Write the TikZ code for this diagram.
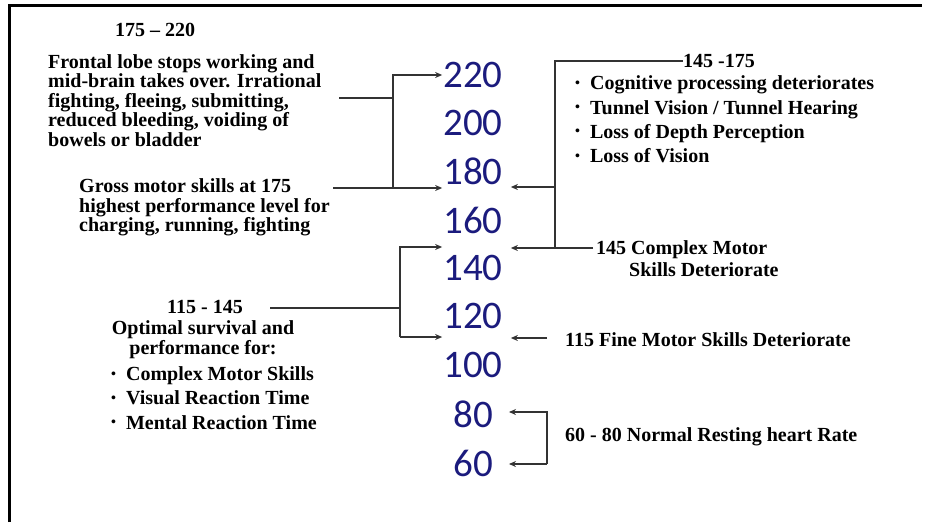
\documentclass[tikz,border=0pt]{standalone}
\usepackage{fontspec}
\setmainfont{Liberation Serif}
\newfontfamily\numfont{Carlito}
\usepackage{xcolor}
\usepackage{tikz}
\usetikzlibrary{arrows.meta}
\definecolor{numblue}{HTML}{1B1B7D}
\definecolor{wiregray}{HTML}{333333}
\newcommand{\bul}{\raisebox{2.5pt}{\fontsize{14}{14}\selectfont•}\hspace{10pt}}

\begin{document}
\begin{tikzpicture}[x=1pt,y=-1pt,
  num/.style={text=numblue,font=\numfont\fontsize{39}{39}\selectfont,inner sep=1pt},
  txt/.style={font=\bfseries\fontsize{20}{19.5}\selectfont,inner sep=0pt,align=left},
  list/.style={txt,font=\bfseries\fontsize{20}{24.3}\selectfont},
  wire/.style={wiregray,line width=1.6pt},
  arr/.style={wire,-{Stealth[length=7pt,width=6pt]}},
  rarr/.style={arr,shorten >=7pt}]
\useasboundingbox (0,0) rectangle (925,522);
\draw[line width=3pt] (9,522) -- (9,5) -- (922,5);
\node[num] (n220) at (473,75) {220};
\node[num] (n200) at (473,123) {200};
\node[num] (n180) at (473,171) {180};
\node[num] (n160) at (473,220) {160};
\node[num] (n140) at (473,268) {140};
\node[num] (n120) at (473,316) {120};
\node[num] (n100) at (473,365) {100};
\node[num] (n80) at (473,414) {80};
\node[num] (n60) at (473,463) {60};
\node[txt] (t175) at (155,30) {175 – 220};
\node[txt,anchor=west] (front) at (48,100.5) {Frontal lobe stops working and\\mid-brain takes over. Irrational\\fighting, fleeing, submitting,\\reduced bleeding, voiding of\\bowels or bladder};
\node[txt,anchor=west] (gross) at (79,207.5) {Gross motor skills at 175\\highest performance level for\\charging, running, fighting};
\node[txt,anchor=west] (t145) at (683,61) {145 -175};
\node[list,anchor=west] (cogn) at (575,119.5) {\bul Cognitive processing deteriorates\\\bul Tunnel Vision / Tunnel Hearing\\\bul Loss of Depth Perception\\\bul Loss of Vision};
\node[txt,anchor=west,font=\bfseries\fontsize{20}{22}\selectfont] (cmotor) at (596,259) {145 Complex Motor\\\hspace*{33pt}Skills Deteriorate};
\node[txt,anchor=west] (fine) at (565,340) {115 Fine Motor Skills Deteriorate};
\node[txt,anchor=west] (rest) at (565,437) {60 - 80 Normal Resting heart Rate};
\node[txt] (t115) at (205,307) {115 - 145};
\node[txt,align=center] (optimal) at (203,339.5) {Optimal survival and\\performance for:};
\node[list,anchor=west] (skills) at (111,398) {\bul Complex Motor Skills\\\bul Visual Reaction Time\\\bul Mental Reaction Time};
% left top bracket
\coordinate (fl) at (339,98);
\coordinate (gm) at (333,188);
\coordinate (ja) at (393,75);
\draw[wire] (fl) -- (ja |- fl);
\draw[arr] (ja |- gm) -- (ja) -- (n220.west);
\draw[arr] (gm) -- (n180.west |- gm);
% right top bracket
\coordinate (jb) at (555,61);
\coordinate (r180) at (555,187);
\coordinate (cm) at (593,248);
\draw[wire] (t145.west) -- (jb) -- (jb |- cm) -- (cm);
\draw[rarr] (r180) -- (n180.east |- r180);
\draw[rarr] (cm) -- (n140.east |- cm);
% left bottom bracket
\coordinate (sl) at (270,308);
\coordinate (jc) at (400,247);
\coordinate (jd) at (400,337);
\draw[wire] (sl) -- (jc |- sl);
\draw[arr] (jd) -- (jc) -- (n140.west |- jc);
\draw[arr] (jd) -- (n120.west |- jd);
% right bottom
\coordinate (fa) at (547,338);
\coordinate (re) at (547,412);
\coordinate (rf) at (547,464);
\draw[rarr] (fa) -- (n120.east |- fa);
\draw[arr,shorten >=15pt] (rf) -- (re) -- (n80.east |- re);
\draw[arr,shorten >=15pt] (rf) -- (n60.east |- rf);
\end{tikzpicture}
\end{document}
